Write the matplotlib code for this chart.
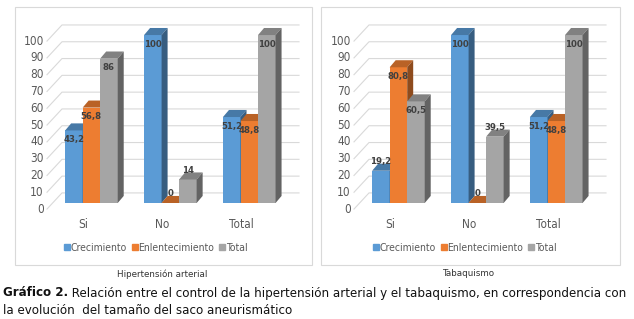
import numpy as np
import matplotlib.pyplot as plt
from matplotlib.patches import Polygon, Rectangle
from matplotlib.lines import Line2D

categories = ['Si', 'No', 'Total']
series_names = ['Crecimiento', 'Enlentecimiento', 'Total']
hta_crecimiento = [43.2, 100, 51.2]
hta_enlentecimiento = [56.8, 0, 48.8]
hta_total = [86, 14, 100]
tab_crecimiento = [19.2, 100, 51.2]
tab_enlentecimiento = [80.8, 0, 48.8]
tab_total = [60.5, 39.5, 100]
yticks = list(range(0, 101, 10))
panel_titles = ['Hipertensión arterial', 'Tabaquismo']
caption_bold = 'Gráfico 2.'
caption_rest = (' Relación entre el control de la hipertensión arterial y el tabaquismo, '
                'en correspondencia con')
caption_line2 = 'la evolución  del tamaño del saco aneurismático'

colors = ['#5B9BD5', '#ED7D31', '#A5A5A5']
chart_font = dict(family='DejaVu Sans', stretch='condensed')

W, H = 634, 319
fig = plt.figure(figsize=(W / 100, H / 100), dpi=100)


def fx(px):
    return px / W


def fy(py):
    return 1 - py / H


def shade(c, f):
    rgb = np.array(plt.matplotlib.colors.to_rgb(c))
    return tuple(rgb * f)


def fmt(v):
    s = f"{v:g}"
    return s.replace('.', ',')


def draw_panel(ax, data):
    w = 0.222
    dx, dy = 0.076, 4.2
    x0, x1 = -0.563, 2.63
    xb = x0 + 0.19
    ax.set_xlim(x0, x1)
    ax.set_ylim(-5, 108)
    ax.axis('off')

    # back wall gridlines with the floor diagonal
    for v in yticks:
        yf, yb = v - 3.6, v + 6
        ax.plot([x0, xb, x1], [yf, yb, yb], color='#D9D9D9', lw=0.8,
                zorder=1, clip_on=False)
        ax.text(x0 - 0.04, yf, str(v), ha='right', va='center', fontsize=8.5,
                color='#595959', **chart_font)

    x = np.arange(len(categories))
    for k, vals in enumerate(data):
        xs = x + (k - 1) * w
        z = 3 + k
        ax.bar(xs, vals, w, color=colors[k], linewidth=0, zorder=z)
        for xi, v in zip(xs, vals):
            l, r = xi - w / 2, xi + w / 2
            ax.add_patch(Polygon([(l, v), (l + dx, v + dy), (r + dx, v + dy), (r, v)],
                                 closed=True, fc=shade(colors[k], 0.78), ec='none', zorder=z))
            ax.add_patch(Polygon([(r, 0), (r, v), (r + dx, v + dy), (r + dx, dy)],
                                 closed=True, fc=shade(colors[k], 0.6), ec='none', zorder=z))
            ly = v - 5.5 if v >= 40 else v + 5.5
            ax.text(xi, ly, fmt(v), ha='center', va='center', fontsize=6.8,
                    fontweight='bold', color='#404040', zorder=10, **chart_font)

    for i, c in enumerate(categories):
        ax.text(i - 0.1, -13, c, ha='center', va='center', fontsize=8.5,
                color='#595959', **chart_font)


panels = [
    (47, [hta_crecimiento, hta_enlentecimiento, hta_total], (15, 312), 156, 162),
    (354, [tab_crecimiento, tab_enlentecimiento, tab_total], (321, 620), 465, 468),
]

for (left_px, data, (bx0, bx1), leg_x, title_x), title in zip(panels, panel_titles):
    fig.patches.append(Rectangle((fx(bx0), fy(265)), fx(bx1) - fx(bx0), fy(7) - fy(265),
                                 transform=fig.transFigure, fill=False,
                                 ec='#D9D9D9', lw=0.8))
    ax = fig.add_axes([fx(left_px), fy(211.4), 252 / W, 189.8 / H])
    draw_panel(ax, data)
    handles = [Line2D([], [], marker='s', ls='', color=c, markersize=4) for c in colors]
    fig.legend(handles, series_names, loc='center', ncol=3,
               bbox_to_anchor=(fx(leg_x), fy(248)), frameon=False,
               handlelength=0.5, handletextpad=0.1, columnspacing=0.5,
               prop=dict(size=7.5, **chart_font), labelcolor='#595959')
    fig.text(fx(title_x), fy(274), title, ha='center', va='center', fontsize=6.3,
             color='#333333', family='DejaVu Sans')

t1 = fig.text(fx(3), fy(293), caption_bold, ha='left', va='center', fontsize=8.6,
              fontweight='bold', color='#111111', family='DejaVu Sans')
fig.canvas.draw()
bb = t1.get_window_extent()
fig.text(bb.x1 / W, fy(293), caption_rest, ha='left', va='center', fontsize=8.6,
         color='#111111', family='DejaVu Sans')
fig.text(fx(3), fy(310), caption_line2, ha='left', va='center', fontsize=8.6,
         color='#111111', family='DejaVu Sans')

fig.savefig('out.png', dpi=100)
